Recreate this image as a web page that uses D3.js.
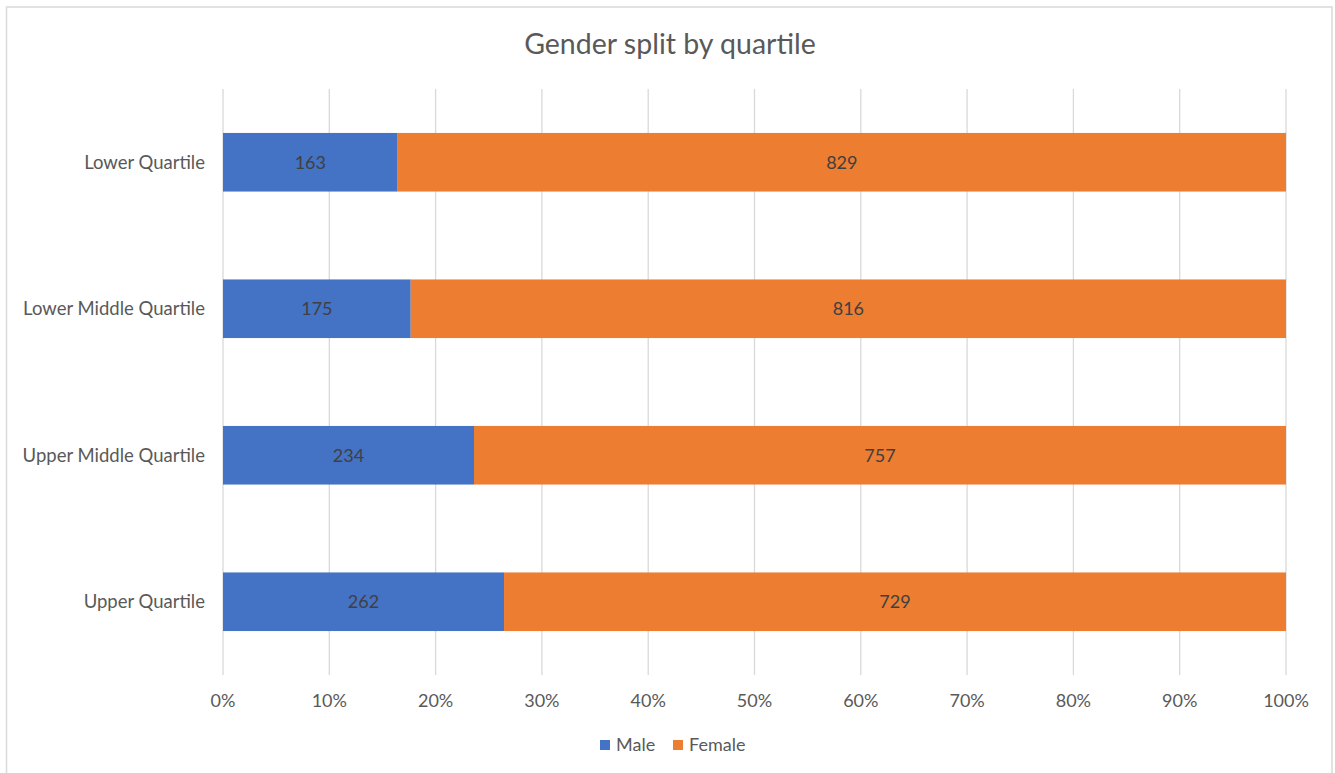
<!DOCTYPE html>
<html><head><meta charset="utf-8">
<script src="https://cdn.jsdelivr.net/npm/d3@7"></script>
<style>body{margin:0;background:#fff}svg{display:block}</style>
</head><body>
<svg id="c" width="1335" height="773"></svg>
<script>
const categories = ["Lower Quartile","Lower Middle Quartile","Upper Middle Quartile","Upper Quartile"];
const series = ["Male","Female"];
const maleValues = [163,175,234,262];
const femaleValues = [829,816,757,729];
const tickValues = [0,0.1,0.2,0.3,0.4,0.5,0.6,0.7,0.8,0.9,1];
const colors = ["#4472C4","#ED7D31"];
const title = "Gender split by quartile";

const font = "Lato, 'Open Sans', sans-serif";
const svg = d3.select("#c");
svg.append("rect").attr("x",6.5).attr("y",7).attr("width",1325.5).attr("height",775)
  .attr("fill","#fff").attr("stroke","#d9d9d9").attr("stroke-width",1.5);

const plotL=223, plotR=1286, plotT=89, plotB=675;
const x = d3.scaleLinear().domain([0,1]).range([plotL,plotR]);
const y = d3.scaleBand().domain(categories).range([plotT,plotB]).paddingInner(0.6).paddingOuter(0.3);

// gridlines
svg.append("g").selectAll("line").data(tickValues).join("line")
  .attr("x1",d=>x(d)).attr("x2",d=>x(d)).attr("y1",plotT).attr("y2",plotB)
  .attr("stroke","#d9d9d9").attr("stroke-width",1.3);

// x tick labels
svg.append("g").selectAll("text").data(tickValues).join("text")
  .attr("x",d=>x(d)).attr("y",701).attr("dy","0.35em").attr("text-anchor","middle")
  .attr("font-family",font).attr("font-size",18).attr("fill","#595959")
  .text(d=>d3.format(".0%")(d));

// category labels
svg.append("g").selectAll("text").data(categories).join("text")
  .attr("x",205).attr("y",d=>y(d)+y.bandwidth()/2).attr("dy","0.35em").attr("text-anchor","end")
  .attr("font-family",font).attr("font-size",18.5).attr("fill","#595959").text(d=>d);

// stacked data
const rows = categories.map((c,i)=>({cat:c, Male:maleValues[i], Female:femaleValues[i]}));
const stack = d3.stack().keys(series).offset(d3.stackOffsetExpand)(rows);

stack.forEach((s,si)=>{
  const g = svg.append("g");
  g.selectAll("rect").data(s).join("rect")
    .attr("x",d=>x(d[0])).attr("width",d=>x(d[1])-x(d[0]))
    .attr("y",d=>y(d.data.cat)).attr("height",y.bandwidth())
    .attr("fill",colors[si]);
  g.selectAll("text").data(s).join("text")
    .attr("x",d=>(x(d[0])+x(d[1]))/2).attr("y",d=>y(d.data.cat)+y.bandwidth()/2).attr("dy","0.35em")
    .attr("text-anchor","middle").attr("font-family",font).attr("font-size",18).attr("fill","#404040")
    .text(d=>d.data[series[si]]);
});

// title
svg.append("text").attr("x",670).attr("y",44).attr("dy","0.35em").attr("text-anchor","middle")
  .attr("font-family",font).attr("font-size",28.5).attr("fill","#595959").text(title);

// legend
const legendX=[600,673];
const lg = svg.append("g");
series.forEach((s,i)=>{
  lg.append("rect").attr("x",legendX[i]).attr("y",740).attr("width",10).attr("height",10).attr("fill",colors[i]);
  lg.append("text").attr("x",legendX[i]+16).attr("y",745).attr("dy","0.35em")
    .attr("font-family",font).attr("font-size",18).attr("fill","#595959").text(s);
});
</script>
</body></html>
